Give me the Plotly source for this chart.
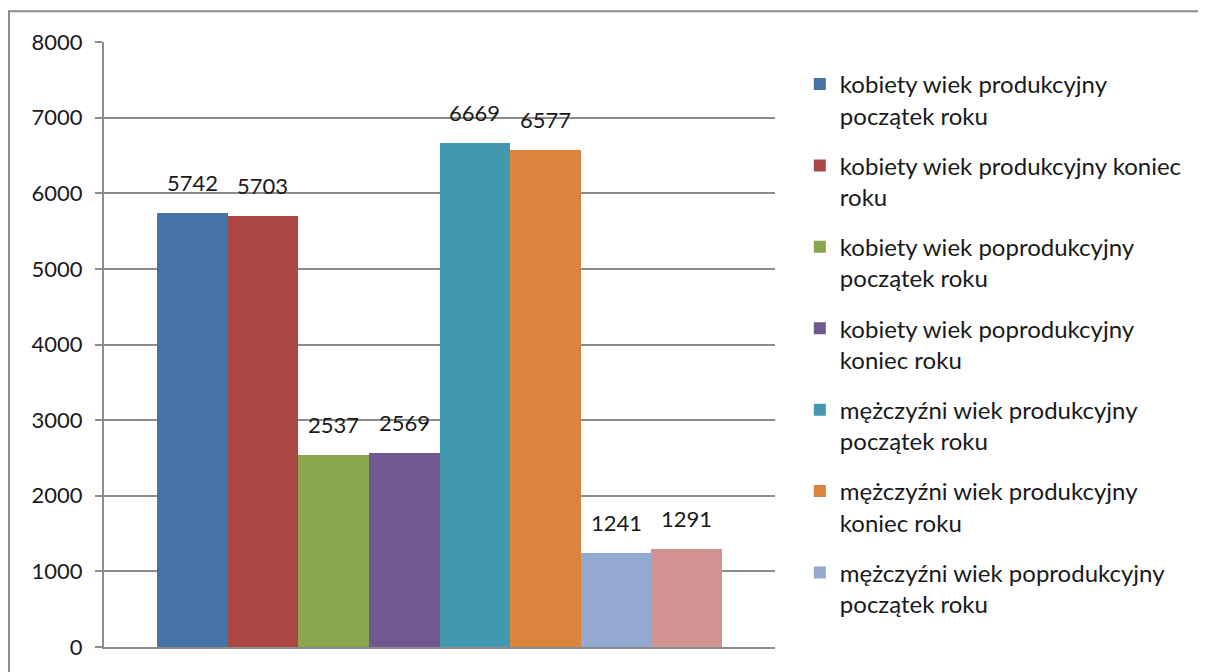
import plotly.graph_objects as go

series_names = [
    "kobiety wiek produkcyjny<br>początek roku",
    "kobiety wiek produkcyjny koniec<br>roku",
    "kobiety wiek poprodukcyjny<br>początek roku",
    "kobiety wiek poprodukcyjny<br>koniec roku",
    "mężczyźni wiek produkcyjny<br>początek roku",
    "mężczyźni wiek produkcyjny<br>koniec roku",
    "mężczyźni wiek poprodukcyjny<br>początek roku",
    "mężczyźni wiek poprodukcyjny<br>koniec roku",
]
values = [5742, 5703, 2537, 2569, 6669, 6577, 1241, 1291]
colors = ["#4572A7", "#AA4643", "#89A54E", "#71588F", "#4198AF", "#DB843D", "#93A9CF", "#D19392"]
y_ticks = [0, 1000, 2000, 3000, 4000, 5000, 6000, 7000, 8000]

FONT = "Lato, 'Open Sans', sans-serif"
GRID = "#8c8c8c"
TXT = "#1a1a1a"

fig = go.Figure()
for i, (n, v, c) in enumerate(zip(series_names, values, colors)):
    fig.add_trace(go.Bar(
        x=[i], y=[v], width=1, name=n,
        marker=dict(color=c, line=dict(width=0)),
        legendgroup=f"g{i}",
        showlegend=(i < 7),
        hovertemplate="%{y}<extra></extra>",
    ))
    fig.add_annotation(
        x=i, y=v, xref="x", yref="y", text=str(v), showarrow=False,
        yanchor="bottom", yshift=15,
        font=dict(family=FONT, size=22, color=TXT),
    )

fig.update_layout(
    width=1198, height=664,
    margin=dict(l=96, r=431, t=34, b=22),
    paper_bgcolor="white", plot_bgcolor="white",
    barmode="overlay", bargap=0,
    font=dict(family=FONT, size=21, color=TXT),
    showlegend=True,
    legend=dict(
        x=1.037, xanchor="left", y=0.967, yanchor="top",
        traceorder="grouped", tracegroupgap=16,
        valign="top", font=dict(family=FONT, size=24, color=TXT),
        bgcolor="rgba(0,0,0,0)",
    ),
    xaxis=dict(range=[-1.25, 8.25], showticklabels=False, showline=True,
               linecolor=GRID, linewidth=2, showgrid=False, ticks="",
               zeroline=False, fixedrange=True),
    yaxis=dict(range=[0, 8000], tickvals=y_ticks, showgrid=True, gridcolor=GRID,
               gridwidth=2, showline=True, linecolor=GRID, linewidth=2,
               ticks="outside", ticklen=7, tickcolor=GRID, tickwidth=2,
               zeroline=False, tickfont=dict(family=FONT, size=22, color=TXT),
               ticklabelstandoff=8),
    shapes=[dict(type="rect", xref="paper", yref="paper",
                 x0=-0.1416, y0=-0.06, x1=1.66, y1=1.051,
                 line=dict(color="#8c8c8c", width=2), fillcolor="rgba(0,0,0,0)",
                 layer="above")],
)

fig.write_html("out.html")
